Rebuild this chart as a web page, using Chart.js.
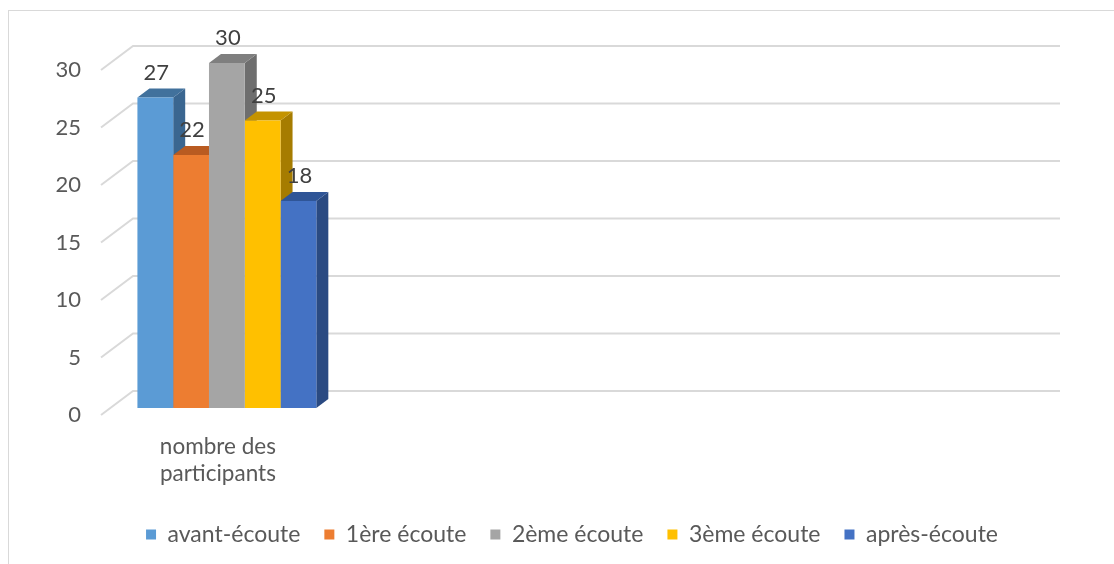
<!DOCTYPE html>
<html>
<head>
<meta charset="utf-8">
<script src="https://cdn.jsdelivr.net/npm/chart.js@4"></script>
<style>
  html, body { margin: 0; padding: 0; background: #ffffff; overflow: hidden; }
  #wrap { position: relative; width: 1114px; height: 564px; }
  #frame { position: absolute; left: 8px; top: 10px; width: 1200px; height: 700px; border: 1px solid #d9d9d9; box-sizing: border-box; }
  canvas { position: absolute; left: 0; top: 0; }
</style>
</head>
<body>
<div id="wrap">
  <div id="frame"></div>
  <canvas id="c" width="1114" height="564"></canvas>
</div>
<script>
// ---- data ----
const categories = [["nombre des", "participants"], "", "", ""];
const seriesNames = ["avant-écoute", "1ère écoute", "2ème écoute", "3ème écoute", "après-écoute"];
const avantEcoute = [27, null, null, null];
const premiereEcoute = [22, null, null, null];
const deuxiemeEcoute = [30, null, null, null];
const troisiemeEcoute = [25, null, null, null];
const apresEcoute = [18, null, null, null];
const yTickStep = 5;
const yMax = 30;

// ---- styles ----
const frontColors = ["#5B9BD5", "#ED7D31", "#A5A5A5", "#FFC000", "#4472C4"];
const topColors   = ["#41719C", "#B95B21", "#7F7F7F", "#C49300", "#2F5597"];
const sideColors  = ["#3A6690", "#A85019", "#6E6E6E", "#A67C00", "#2A4A82"];
const seriesValues = [avantEcoute, premiereEcoute, deuxiemeEcoute, troisiemeEcoute, apresEcoute];

const FONT = "Lato, 'Open Sans', sans-serif";
const DX = 12, DY = 9;          // bar depth projection
const BACK_DX = 22, BACK_DY = 17; // back wall offset from bar plane
const FRONT_DX = 10, FRONT_DY = 7; // front edge offset from bar plane

const wallPlugin = {
  id: 'wall3d',
  beforeDatasetsDraw(chart) {
    const ctx = chart.ctx;
    const ys = chart.scales.y;
    const area = chart.chartArea;
    ctx.save();
    ctx.strokeStyle = '#d9d9d9';
    ctx.lineWidth = 2;
    ys.ticks.forEach(t => {
      const yp = ys.getPixelForValue(t.value);
      ctx.beginPath();
      ctx.moveTo(area.left - FRONT_DX, yp + FRONT_DY);
      ctx.lineTo(area.left + BACK_DX, yp - BACK_DY);
      ctx.lineTo(area.right + BACK_DX, yp - BACK_DY);
      ctx.stroke();
    });
    // 3D top and side faces of bars
    chart.data.datasets.forEach((ds, di) => {
      const meta = chart.getDatasetMeta(di);
      meta.data.forEach((el, i) => {
        if (ds.data[i] == null) return;
        const L = el.x - el.width / 2, R = el.x + el.width / 2;
        const y = el.y, b = el.base;
        ctx.fillStyle = sideColors[di];
        ctx.beginPath();
        ctx.moveTo(R, y); ctx.lineTo(R + DX, y - DY); ctx.lineTo(R + DX, b - DY); ctx.lineTo(R, b);
        ctx.closePath(); ctx.fill();
        ctx.fillStyle = topColors[di];
        ctx.beginPath();
        ctx.moveTo(L, y); ctx.lineTo(L + DX, y - DY); ctx.lineTo(R + DX, y - DY); ctx.lineTo(R, y);
        ctx.closePath(); ctx.fill();
      });
    });
    ctx.restore();
  },
  afterDatasetsDraw(chart) {
    const ctx = chart.ctx;
    ctx.save();
    ctx.font = "22px " + FONT;
    ctx.fillStyle = '#404040';
    ctx.textAlign = 'center';
    ctx.textBaseline = 'middle';
    chart.data.datasets.forEach((ds, di) => {
      const meta = chart.getDatasetMeta(di);
      meta.data.forEach((el, i) => {
        if (ds.data[i] == null) return;
        ctx.fillText(String(ds.data[i]), el.x + 1, el.y - 25);
      });
    });
    ctx.restore();
  }
};

new Chart(document.getElementById('c'), {
  type: 'bar',
  data: {
    labels: categories,
    datasets: seriesNames.map((name, i) => ({
      label: name,
      data: seriesValues[i],
      backgroundColor: frontColors[i],
      borderWidth: 0,
      categoryPercentage: 0.772,
      barPercentage: 1.0
    }))
  },
  options: {
    responsive: false,
    animation: false,
    layout: { padding: { top: 63, right: 0, bottom: 8, left: 30 } },
    scales: {
      x: {
        grid: { display: false, drawTicks: false },
        border: { display: false },
        ticks: { color: '#595959', font: { family: FONT, size: 22.5 }, padding: 25, labelOffset: -9, maxRotation: 0, autoSkip: false },
        afterFit(scale) { scale.height = 91; }
      },
      y: {
        min: 0, max: yMax,
        grid: { display: false, drawTicks: false },
        border: { display: false },
        ticks: { stepSize: yTickStep, color: '#595959', font: { family: FONT, size: 22 }, padding: 30, labelOffset: 7 },
        afterFit(scale) { scale.width = 81; }
      },
      yRight: {
        position: 'right',
        grid: { display: false, drawTicks: false },
        border: { display: false },
        ticks: { display: false },
        afterFit(scale) { scale.width = 76; }
      }
    },
    plugins: {
      legend: {
        position: 'bottom',
        labels: { boxWidth: 10, boxHeight: 10, padding: 24, color: '#595959', font: { family: FONT, size: 23 } }
      },
      tooltip: { enabled: false }
    }
  },
  plugins: [wallPlugin]
});
</script>
</body>
</html>
